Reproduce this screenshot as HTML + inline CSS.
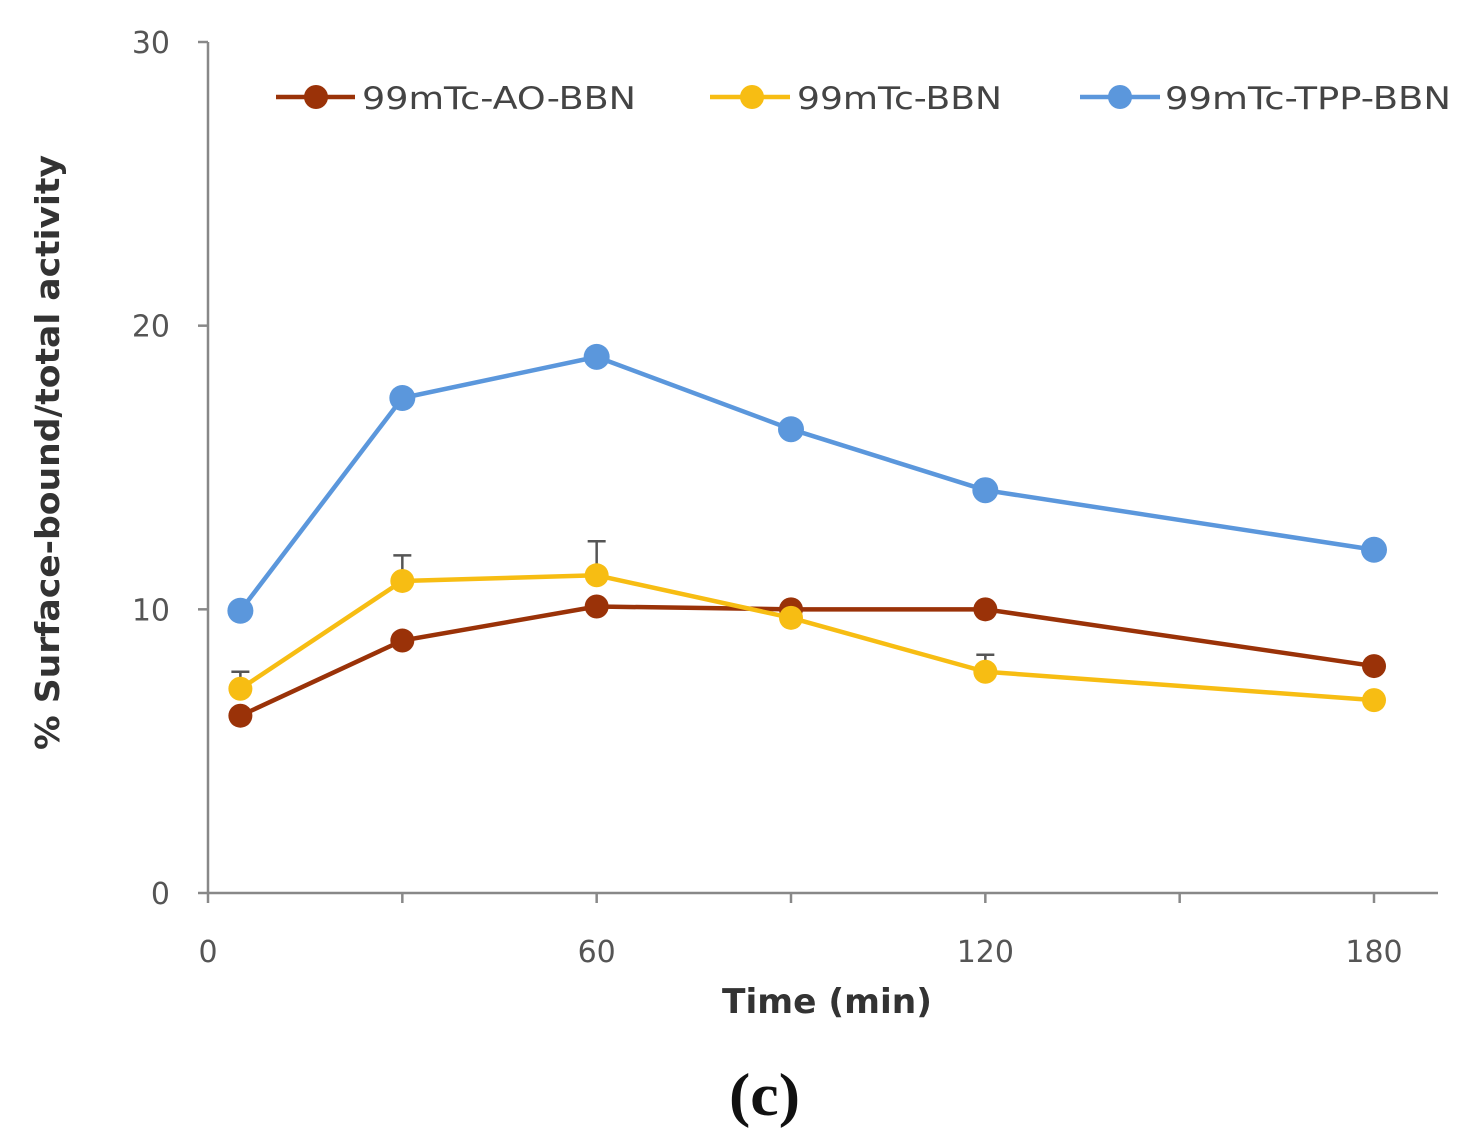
<!DOCTYPE html>
<html><head><meta charset="utf-8"><style>
html,body{margin:0;padding:0;background:#fff;}
svg{display:block;font-family:"DejaVu Sans","Liberation Sans",sans-serif;}
</style></head><body>
<svg id="chart" width="1476" height="1143" viewBox="0 0 1476 1143"></svg>
<script>
const xCats = [5, 30, 60, 90, 120, 180];
const blueVals = [9.95, 17.45, 18.9, 16.35, 14.2, 12.1];
const yellowVals = [7.2, 11.0, 11.2, 9.7, 7.8, 6.8];
const brownVals = [6.25, 8.9, 10.1, 10.0, 10.0, 8.0];
const yellowErr = [0.6, 0.9, 1.2, 0, 0.6, 0];
const yTicks = [0, 10, 20, 30];
const xTickLabels = [0, 60, 120, 180];
const xMinorTicks = [30, 90, 150];
const seriesNames = ["99mTc-AO-BBN", "99mTc-BBN", "99mTc-TPP-BBN"];

const NS = "http://www.w3.org/2000/svg";
const svg = document.getElementById("chart");
const X0 = 208, Y0 = 893;
function xs(v){ return X0 + v * (1374 - 208) / 180; }
function ys(v){ return Y0 - v * (893 - 42) / 30; }
function mk(tag, attrs, parent){
  const e = document.createElementNS(NS, tag);
  for (const k in attrs) e.setAttribute(k, attrs[k]);
  (parent || svg).appendChild(e);
  return e;
}
let a = mk("line", {x1:X0, y1:42, x2:X0, y2:Y0, stroke:"#888", "stroke-width":2.5});


a = mk("line", {x1:X0, y1:Y0, x2:1438, y2:Y0, stroke:"#888", "stroke-width":2.5});


yTicks.forEach(v => {
  mk("line", {x1:X0-10, y1:ys(v), x2:X0, y2:ys(v), stroke:"#888", "stroke-width":2.5});
  const t = mk("text", {x:170, y:ys(v)+11, "text-anchor":"end", "font-size":30, fill:"#555"});
  t.textContent = v;
  
  
});
xTickLabels.forEach(v => {
  mk("line", {x1:xs(v), y1:Y0, x2:xs(v), y2:Y0+10, stroke:"#888", "stroke-width":2.5});
  const t = mk("text", {x:xs(v), y:962, "text-anchor":"middle", "font-size":30, fill:"#555"});
  t.textContent = v;
  
  
});
xMinorTicks.forEach(v => {
  mk("line", {x1:xs(v), y1:Y0, x2:xs(v), y2:Y0+10, stroke:"#888", "stroke-width":2.5});
});
let t = mk("text", {x:722, y:1013, "font-size":34, "font-weight":"bold", fill:"#333", textLength:210, lengthAdjust:"spacingAndGlyphs"});
t.textContent = "Time (min)";


t = mk("text", {x:-750, y:0, "font-size":33, "font-weight":"bold", fill:"#333", textLength:595, lengthAdjust:"spacingAndGlyphs", transform:"translate(59,0) rotate(-90)"});
t.textContent = "% Surface-bound/total activity";


t = mk("text", {x:729, y:1115, "font-size":60, "font-weight":"bold", fill:"#111", "font-family":"Liberation Serif, serif", textLength:71, lengthAdjust:"spacingAndGlyphs"});
t.textContent = "(c)";



function series(vals, color, r, name){
  const g = mk("g", {});
  
  
  const pts = vals.map((v,i) => xs(xCats[i]) + "," + ys(v)).join(" ");
  mk("polyline", {points:pts, fill:"none", stroke:color, "stroke-width":4.5, "stroke-linejoin":"round"}, g);
  vals.forEach((v,i) => {
    const c = mk("circle", {cx:xs(xCats[i]), cy:ys(v), r:r, fill:color}, g);
    
    
  });
  return g;
}
yellowErr.forEach((e,i) => {
  if (!e) return;
  const x = xs(xCats[i]), y1 = ys(yellowVals[i]), y2 = ys(yellowVals[i] + e);
  const l = mk("path", {d:`M${x},${y1} L${x},${y2} M${x-9},${y2} L${x+9},${y2}`, stroke:"#555", "stroke-width":2.5, fill:"none"});
  
  
});
series(brownVals, "#9a3208", 12, "series-ao-bbn");
series(yellowVals, "#f7bd13", 12, "series-bbn");
series(blueVals, "#5b97dc", 13, "series-tpp-bbn");

const legend = [[276, 355, 316, "#9a3208", 362, 274], [710, 790, 752, "#f7bd13", 797, 205], [1080, 1160, 1120, "#5b97dc", 1165, 286]];
legend.forEach((L, i) => {
  const g = mk("g", {});
  
  
  mk("line", {x1:L[0], y1:97, x2:L[1], y2:97, stroke:L[3], "stroke-width":4.5}, g);
  mk("circle", {cx:L[2], cy:97, r:12, fill:L[3]}, g);
  const tx = mk("text", {x:L[4], y:109, "font-size":31, fill:"#444", textLength:L[5], lengthAdjust:"spacingAndGlyphs"}, g);
  tx.textContent = seriesNames[i];
});
</script>
</body></html>
